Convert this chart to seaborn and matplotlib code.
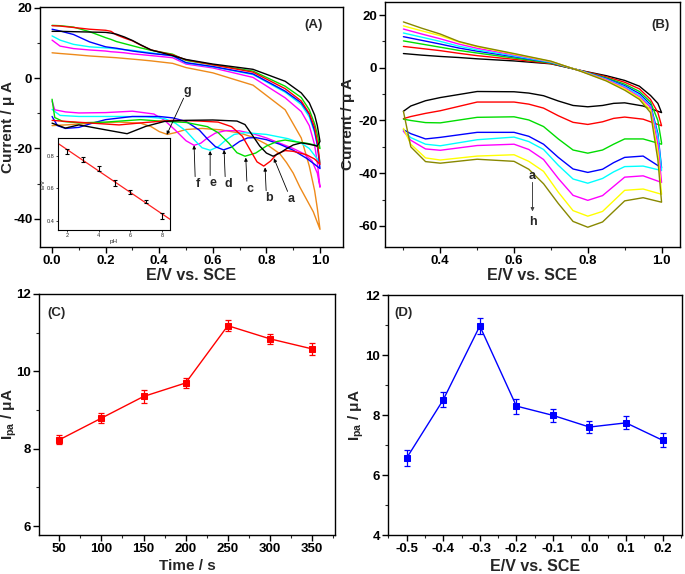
import numpy as np
import pandas as pd
import matplotlib
matplotlib.use("Agg")
import matplotlib.pyplot as plt
from matplotlib.ticker import AutoMinorLocator, MultipleLocator, FixedLocator
import seaborn as sns

sns.set_style("ticks")
plt.rcParams['font.family'] = ['Liberation Sans', 'DejaVu Sans']
plt.rcParams['font.weight'] = 'bold'
plt.rcParams['axes.labelweight'] = 'bold'
plt.rcParams['mathtext.fontset'] = 'custom'
plt.rcParams['mathtext.bf'] = 'Liberation Sans:bold'
plt.rcParams['mathtext.rm'] = 'Liberation Sans:bold'
plt.rcParams['mathtext.it'] = 'Liberation Sans:bold'

# ---------------- Panel A : CVs at different pH (a-g) ----------------
A_up_E = [0.0, 0.03, 0.08, 0.14, 0.2, 0.22, 0.24, 0.27, 0.3, 0.33, 0.37, 0.45, 0.5, 0.6,
          0.75, 0.87, 0.93, 0.96, 0.98, 0.99, 1.0]
A_a_up = [13.3, 13.3, 13.2, 13.1, 13.0, 12.8, 12.5, 11.7, 10.7, 9.5, 8.0, 6.4, 5.3, 4.0,
          2.5, -0.9, -4.2, -7.0, -10.5, -13.5, -18]
A_b_up = [14.9, 14.8, 14.4, 13.9, 13.6, 13.3, 12.3, 11.4, 10.6, 9.4, 8.0, 6.6, 5.2, 3.8,
          1.7, -3.0, -6.5, -10, -14, -18, -24.5]
A_c_up = [15.0, 14.9, 14.5, 13.2, 11.5, 11.0, 10.4, 9.8, 9.2, 8.6, 7.9, 6.8, 5.0, 3.8,
          2.0, -2.3, -5.5, -9, -13, -16, -20]
A_d_up = [13.9, 13.4, 12.4, 10.3, 8.9, 8.7, 8.5, 8.1, 7.7, 7.4, 7.0, 6.4, 4.4, 3.3,
          1.2, -3.7, -7, -10.3, -15, -19, -25.7]
A_e_up = [12.0, 10.8, 9.6, 8.9, 8.6, 8.5, 8.3, 8.1, 7.9, 7.6, 7.2, 6.3, 4.3, 3.2,
          1.0, -4.0, -7.5, -11, -15.5, -19, -24]
A_f_up = [10.8, 9.1, 8.4, 8.0, 7.7, 7.5, 7.4, 7.2, 6.9, 6.7, 6.4, 5.8, 4.0, 2.9,
          0.2, -5.6, -9.5, -13.5, -19, -24, -31]
A_g_up = [7.2, 7.0, 6.7, 6.3, 6.0, 5.9, 5.8, 5.6, 5.4, 5.2, 4.9, 4.2, 3.0, 1.5,
          -2.0, -9.0, -17, -25, -32, -37, -43]

A_a_dn_E = [1.0, 0.99, 0.96, 0.93, 0.9, 0.87, 0.85, 0.825, 0.8, 0.775, 0.75, 0.72, 0.69, 0.6,
            0.5, 0.42, 0.35, 0.28, 0.2, 0.1, 0.05, 0.0]
A_a_dn = [-18, -19.3, -18.8, -18.4, -19.0, -20.3, -21.3, -22.2, -21.3, -19.3, -16.5, -13.2, -12.2,
          -11.9, -12.0, -12.3, -13.7, -15.8, -14.7, -13.3, -14.2, -12.8]
A_b_dn_E = [1.0, 0.98, 0.95, 0.9, 0.87, 0.84, 0.815, 0.79, 0.765, 0.74, 0.71, 0.67, 0.62, 0.55,
            0.45, 0.35, 0.25, 0.15, 0.05, 0.0]
A_b_dn = [-24.5, -23, -21.8, -20.8, -20.6, -21.5, -23.6, -25.0, -23.8, -20.5, -16.5, -13.8, -12.5,
          -12.2, -12.0, -12.6, -13.3, -12.8, -12.3, -12.0]
A_c_dn_E = [1.0, 0.98, 0.95, 0.9, 0.87, 0.84, 0.8, 0.76, 0.72, 0.69, 0.66, 0.62, 0.58, 0.5,
            0.4, 0.33, 0.2, 0.1, 0.04, 0.01, 0.0]
A_c_dn = [-20, -19, -18.5, -18.0, -17.6, -18.0, -19.3, -21.3, -22.2, -21.2, -18.5, -15.5, -13.8,
          -12.6, -12.2, -11.8, -12.5, -12.7, -12.3, -11.2, -6.0]
A_d_dn_E = [1.0, 0.98, 0.95, 0.9, 0.85, 0.8, 0.76, 0.73, 0.7, 0.67, 0.64, 0.61, 0.58, 0.55,
            0.5, 0.45, 0.4, 0.3, 0.2, 0.15, 0.1, 0.05, 0.02, 0.0]
A_d_dn = [-25.7, -24.5, -22.8, -20.5, -18.8, -17.5, -16.9, -17.0, -18.0, -19.6, -20.4, -19.5,
          -17.3, -14.8, -12.3, -11.3, -10.9, -10.9, -11.8, -12.8, -14.0, -14.3, -13.5, -10.9]
A_e_dn_E = [1.0, 0.98, 0.96, 0.93, 0.88, 0.8, 0.72, 0.68, 0.65, 0.62, 0.59, 0.56, 0.53, 0.5,
            0.46, 0.42, 0.35, 0.25, 0.1, 0.03, 0.0]
A_e_dn = [-24, -22, -20, -18.5, -17.2, -16.0, -15.5, -16.0, -17.5, -19.5, -20.5, -19.8, -17.5,
          -15.0, -12.8, -11.5, -11.0, -10.9, -10.9, -10.6, -8.9]
A_f_dn_E = [1.0, 0.99, 0.97, 0.94, 0.9, 0.85, 0.8, 0.75, 0.7, 0.65, 0.61, 0.58, 0.555, 0.53,
            0.5, 0.46, 0.42, 0.38, 0.3, 0.2, 0.1, 0.05, 0.01, 0.0]
A_f_dn = [-31, -27, -23.5, -21.5, -20.0, -18.5, -17.0, -15.8, -15.0, -14.9, -15.6, -17.0, -18.5,
          -19.1, -17.8, -14.8, -12.0, -10.2, -9.4, -9.8, -9.9, -9.6, -9.0, -6.5]
A_g_dn_E = [1.0, 0.975, 0.95, 0.925, 0.9, 0.875, 0.85, 0.8, 0.75, 0.7, 0.63, 0.56, 0.5, 0.46,
            0.43, 0.4, 0.37, 0.33, 0.25, 0.15, 0.05, 0.0]
A_g_dn = [-43, -38, -34.5, -31, -27, -24, -21.5, -18.8, -16.8, -15.6, -14.7, -14.3, -14.6, -15.5,
          -16.0, -15.2, -13.8, -12.8, -12.5, -12.8, -13.3, -13.5]

A_labels = ['a', 'b', 'c', 'd', 'e', 'f', 'g']
A_colors = ['#000000', '#ff0000', '#00dd00', '#0000ff', '#00ffff', '#ff00ff', '#ee8a1a']

# inset: peak potential vs pH
inset_pH = [2, 3, 4, 5, 6, 7, 8]
inset_E = [0.825, 0.78, 0.72, 0.635, 0.58, 0.52, 0.43]
inset_err = [0.015, 0.015, 0.015, 0.018, 0.012, 0.012, 0.018]

# ---------------- Panel B : CVs at increasing concentration (a-h) ----------------
B_up_E = [0.3, 0.35, 0.4, 0.45, 0.5, 0.6, 0.7, 0.78, 0.85, 0.9, 0.94, 0.97, 0.99, 1.0]
B_a_up = [5.4, 4.8, 4.3, 3.9, 3.4, 2.6, 1.5, -1.0, -3.0, -4.8, -7.0, -10.5, -13.5, -17]
B_b_up = [8.1, 7.3, 6.5, 5.5, 4.6, 3.2, 1.6, -1.0, -3.4, -5.5, -8.0, -12.0, -17, -22]
B_c_up = [10.2, 9.0, 7.8, 6.6, 5.6, 3.7, 1.8, -1.1, -3.8, -6.2, -9.0, -13.0, -20, -28.5]
B_d_up = [11.8, 10.4, 9.0, 7.5, 6.3, 4.2, 2.0, -1.1, -4.1, -6.8, -9.8, -14.0, -25, -38]
B_e_up = [13.2, 11.6, 10.0, 8.2, 6.8, 4.5, 2.1, -1.1, -4.3, -7.2, -10.4, -14.5, -26, -39]
B_f_up = [14.7, 12.8, 11.0, 9.0, 7.4, 4.9, 2.3, -1.2, -4.5, -7.6, -11.0, -15.0, -29, -43.5]
B_g_up = [15.9, 14.0, 12.2, 9.8, 8.0, 5.2, 2.4, -1.2, -4.8, -8.0, -11.5, -16.0, -32, -48]
B_h_up = [17.4, 15.0, 12.8, 10.0, 8.2, 5.4, 2.5, -1.3, -5.0, -8.5, -12.0, -17.0, -35, -51]

B_dn_E = [1.0, 0.95, 0.9, 0.87, 0.84, 0.8, 0.76, 0.72, 0.68, 0.64, 0.6, 0.5, 0.4, 0.36, 0.32, 0.3]
B_a_dn = [-17, -14.5, -13.3, -13.5, -14.3, -14.8, -14.3, -12.6, -10.6, -9.6, -9.1, -9.0, -11.3, -12.5, -14.5, -16.5]
B_b_dn = [-22, -19.5, -18.7, -19.2, -20.5, -21.5, -20.7, -18.2, -15.3, -13.8, -13.0, -13.0, -16.3, -17.3, -18.5, -19.3]
B_c_dn = [-29, -27, -27, -29, -31.2, -32.4, -31.2, -27.0, -22.3, -19.8, -18.6, -18.8, -20.9, -20.8, -20.0, -19.5]
B_d_dn = [-38, -33.5, -34, -36, -38.5, -39.7, -38.4, -34.0, -29.0, -26.0, -24.5, -24.5, -26.4, -27.0, -25.0, -23.5]
B_e_dn = [-39, -37.3, -37.5, -39.5, -42, -43.8, -42.2, -37.0, -31.0, -28.0, -26.3, -27.3, -29.6, -29.0, -26.5, -24.0]
B_f_dn = [-43.5, -41, -41.5, -45, -48.5, -50.3, -48.4, -42.0, -34.8, -31.0, -29.0, -29.5, -31.3, -30.8, -27.5, -24.0]
B_g_dn = [-48, -46, -46.5, -50.5, -54.5, -56.3, -54.2, -47.2, -39.3, -35.5, -33.0, -33.5, -35.0, -34.2, -29.0, -23.0]
B_h_dn = [-51, -49.3, -50.5, -54.5, -58.5, -60.5, -58.3, -51.5, -44.0, -38.5, -35.5, -34.7, -36.2, -35.6, -30.0, -16.5]

B_colors = ['#000000', '#ff0000', '#00dd00', '#0000ff', '#00ffff', '#ff00ff', '#ffff00', '#888800']

# ---------------- Panel C : accumulation time ----------------
C_time = [50, 100, 150, 200, 250, 300, 350]
C_ipa = [8.23, 8.79, 9.35, 9.70, 11.18, 10.84, 10.58]
C_err = [0.12, 0.13, 0.17, 0.12, 0.14, 0.13, 0.16]

# ---------------- Panel D : accumulation potential ----------------
D_pot = [-0.5, -0.4, -0.3, -0.2, -0.1, 0.0, 0.1, 0.2]
D_ipa = [6.57, 8.51, 10.97, 8.30, 7.99, 7.60, 7.74, 7.16]
D_err = [0.27, 0.25, 0.26, 0.25, 0.21, 0.19, 0.22, 0.23]

# ---------------------------------------------------------------
fig = plt.figure(figsize=(6.85, 5.74), dpi=100)
axA = fig.add_axes([0.0584, 0.5697, 0.442, 0.418])
axB = fig.add_axes([0.562, 0.5697, 0.4307, 0.427])
axC = fig.add_axes([0.0569, 0.0679, 0.432, 0.42])
axD = fig.add_axes([0.566, 0.0679, 0.429, 0.418])

TICK_FS = 9.5
YLAB_FS = 11
XLAB_FS = 11.5


def style(ax):
    for sp in ax.spines.values():
        sp.set_visible(True)
        sp.set_linewidth(1.0)
        sp.set_color('black')
    ax.tick_params(which='major', direction='out', length=4, width=1, labelsize=TICK_FS,
                   colors='black', pad=1.5)
    ax.tick_params(which='minor', direction='out', length=2, width=0.8)


def fmt_ticks(ax, xfmt=None):
    yt = [t for t in ax.get_yticks()]
    ax.set_yticks(yt)
    ax.set_yticklabels([f'{int(round(v))}' for v in yt], fontsize=TICK_FS, fontweight='bold')
    xt = [t for t in ax.get_xticks()]
    ax.set_xticks(xt)
    if xfmt is None:
        ax.set_xticklabels([f'{int(round(v))}' for v in xt], fontsize=TICK_FS, fontweight='bold')
    else:
        ax.set_xticklabels([xfmt.format(v + 0.0) for v in xt], fontsize=TICK_FS, fontweight='bold')


def cv(ax, up_E, up_I, dn_E, dn_I, color, lw=1.0):
    df = pd.DataFrame({'E': list(up_E) + list(dn_E), 'I': list(up_I) + list(dn_I)})
    sns.lineplot(data=df, x='E', y='I', sort=False, estimator=None, color=color, lw=lw, ax=ax)


# Panel A
A_up = [A_a_up, A_b_up, A_c_up, A_d_up, A_e_up, A_f_up, A_g_up]
A_dnE = [A_a_dn_E, A_b_dn_E, A_c_dn_E, A_d_dn_E, A_e_dn_E, A_f_dn_E, A_g_dn_E]
A_dn = [A_a_dn, A_b_dn, A_c_dn, A_d_dn, A_e_dn, A_f_dn, A_g_dn]
for i in [6, 5, 4, 3, 2, 1, 0]:
    cv(axA, A_up_E, A_up[i], A_dnE[i], A_dn[i], A_colors[i])
axA.set_xlim(-0.045, 1.085)
axA.set_ylim(-48, 20.2)
axA.set_xticks([0.0, 0.2, 0.4, 0.6, 0.8, 1.0])
axA.set_yticks([-40, -20, 0, 20])
axA.xaxis.set_minor_locator(AutoMinorLocator(2))
axA.yaxis.set_minor_locator(AutoMinorLocator(2))
style(axA)
fmt_ticks(axA, '{:.1f}')
axA.set_xlabel('E/V vs. SCE', fontsize=XLAB_FS, fontweight='bold')
axA.set_ylabel('Current / μ A', fontsize=YLAB_FS, fontweight='bold')
axA.xaxis.set_label_coords(0.5, -0.088)
axA.yaxis.set_label_coords(-0.083, 0.5)
axA.text(0.935, 0.925, '(A)', transform=axA.transAxes, ha='right', va='center', fontsize=9.5, fontweight='bold')

# annotations A
ann_txt_E = [0.891, 0.811, 0.739, 0.658, 0.602, 0.546, 0.503]
ann_txt_I = [-34.4, -34.2, -31.5, -30.2, -29.9, -30.2, -3.7]
ann_tip_E = [0.828, 0.795, 0.723, 0.642, 0.590, 0.530, 0.428]
ann_tip_I = [-22.8, -25.4, -22.6, -20.4, -20.7, -19.1, -16.1]
for k in range(7):
    ty = ann_txt_I[k]
    start_I = ty + 2.2 if k < 6 else ty - 2.0
    axA.annotate('', xy=(ann_tip_E[k], ann_tip_I[k]), xytext=(ann_txt_E[k] - 0.012, start_I),
                 arrowprops=dict(arrowstyle='-|>', lw=0.6, color='black', mutation_scale=5,
                                 shrinkA=0, shrinkB=0))
    axA.text(ann_txt_E[k], ty, A_labels[k], ha='center', va='center', fontsize=9, fontweight='bold')

# inset
axI = fig.add_axes([0.0847, 0.5993, 0.1635, 0.1603])
fitp = np.polyfit(inset_pH, inset_E, 1)
xx = np.array([1.43, 8.5])
axI.plot(xx, np.polyval(fitp, xx), color='#ff2020', lw=0.9)
axI.errorbar(inset_pH, inset_E, yerr=inset_err, fmt='none', ecolor='black', elinewidth=0.8,
             capsize=1.5, capthick=0.8)
axI.set_xlim(1.43, 8.5)
axI.set_ylim(0.345, 0.91)
axI.xaxis.set_major_locator(FixedLocator([2, 4, 6, 8]))
axI.yaxis.set_major_locator(FixedLocator([0.4, 0.6, 0.8]))
axI.set_xlabel('pH', fontsize=4.5, labelpad=0.5, fontweight='normal')
axI.set_ylabel('E/V', fontsize=4.5, labelpad=0.5, fontweight='normal')
axI.tick_params(direction='out', length=1.5, width=0.6, labelsize=4, pad=1)
for lab in axI.get_xticklabels() + axI.get_yticklabels():
    lab.set_fontweight('normal')
for sp in axI.spines.values():
    sp.set_linewidth(0.8)
    sp.set_color('black')

# Panel B
B_up = [B_a_up, B_b_up, B_c_up, B_d_up, B_e_up, B_f_up, B_g_up, B_h_up]
B_dn = [B_a_dn, B_b_dn, B_c_dn, B_d_dn, B_e_dn, B_f_dn, B_g_dn, B_h_dn]
for i in range(8):
    cv(axB, B_up_E, B_up[i], B_dn_E, B_dn[i], B_colors[i])
axB.set_xlim(0.25, 1.05)
axB.set_ylim(-68, 25)
axB.set_xticks([0.4, 0.6, 0.8, 1.0])
axB.set_yticks([-60, -40, -20, 0, 20])
axB.xaxis.set_minor_locator(AutoMinorLocator(2))
axB.yaxis.set_minor_locator(AutoMinorLocator(2))
style(axB)
fmt_ticks(axB, '{:.1f}')
axB.set_xlabel('E/V vs. SCE', fontsize=XLAB_FS, fontweight='bold')
axB.set_ylabel('Current / μ A', fontsize=YLAB_FS, fontweight='bold')
axB.xaxis.set_label_coords(0.5, -0.086)
axB.yaxis.set_label_coords(-0.1, 0.5)
axB.text(0.966, 0.906, '(B)', transform=axB.transAxes, ha='right', va='center', fontsize=9.5, fontweight='bold')
axB.annotate('', xy=(0.65, -54.5), xytext=(0.65, -43.5),
             arrowprops=dict(arrowstyle='-|>', lw=0.7, color='#444444', mutation_scale=5,
                             shrinkA=0, shrinkB=0))
axB.text(0.65, -41.0, 'a', ha='center', va='center', fontsize=9, fontweight='bold')
axB.text(0.65, -58.7, 'h', ha='center', va='center', fontsize=9, fontweight='bold')

# Panel C
sns.lineplot(x=C_time, y=C_ipa, ax=axC, color='#ff0000', lw=1.0, marker='s', markersize=4,
             markeredgecolor='#ff0000', estimator=None)
axC.errorbar(C_time, C_ipa, yerr=C_err, fmt='none', ecolor='#ff0000', elinewidth=0.9,
             capsize=2.5, capthick=0.9)
axC.set_xlim(26, 377)
axC.set_ylim(5.77, 12)
axC.set_xticks([50, 100, 150, 200, 250, 300, 350])
axC.set_yticks([6, 8, 10, 12])
axC.xaxis.set_minor_locator(AutoMinorLocator(2))
axC.yaxis.set_minor_locator(AutoMinorLocator(2))
style(axC)
fmt_ticks(axC)
axC.set_xlabel('Time / s', fontsize=11, fontweight='bold')
axC.set_ylabel(r'$\mathbf{I_{pa}}$ / μA', fontsize=YLAB_FS, fontweight='bold')
axC.xaxis.set_label_coords(0.5, -0.1)
axC.yaxis.set_label_coords(-0.068, 0.5)
axC.text(0.03, 0.92, '(C)', transform=axC.transAxes, ha='left', va='center', fontsize=9.5, fontweight='bold')

# Panel D
sns.lineplot(x=D_pot, y=D_ipa, ax=axD, color='#0000ff', lw=1.0, marker='s', markersize=4,
             markeredgecolor='#0000ff', estimator=None)
axD.errorbar(D_pot, D_ipa, yerr=D_err, fmt='none', ecolor='#0000ff', elinewidth=0.9,
             capsize=2.5, capthick=0.9)
axD.set_xlim(-0.552, 0.252)
axD.set_ylim(4, 12)
axD.set_xticks([-0.5, -0.4, -0.3, -0.2, -0.1, 0.0, 0.1, 0.2])
axD.set_yticks([4, 6, 8, 10, 12])
axD.xaxis.set_minor_locator(AutoMinorLocator(2))
axD.yaxis.set_minor_locator(AutoMinorLocator(2))
style(axD)
fmt_ticks(axD, '{:.1f}')
axD.set_xlabel('E/V vs. SCE', fontsize=XLAB_FS, fontweight='bold')
axD.set_ylabel(r'$\mathbf{I_{pa}}$ / μA', fontsize=YLAB_FS, fontweight='bold')
axD.xaxis.set_label_coords(0.5, -0.1)
axD.yaxis.set_label_coords(-0.075, 0.5)
axD.text(0.024, 0.925, '(D)', transform=axD.transAxes, ha='left', va='center', fontsize=9.5, fontweight='bold')

fig.savefig('out.png', dpi=100)
